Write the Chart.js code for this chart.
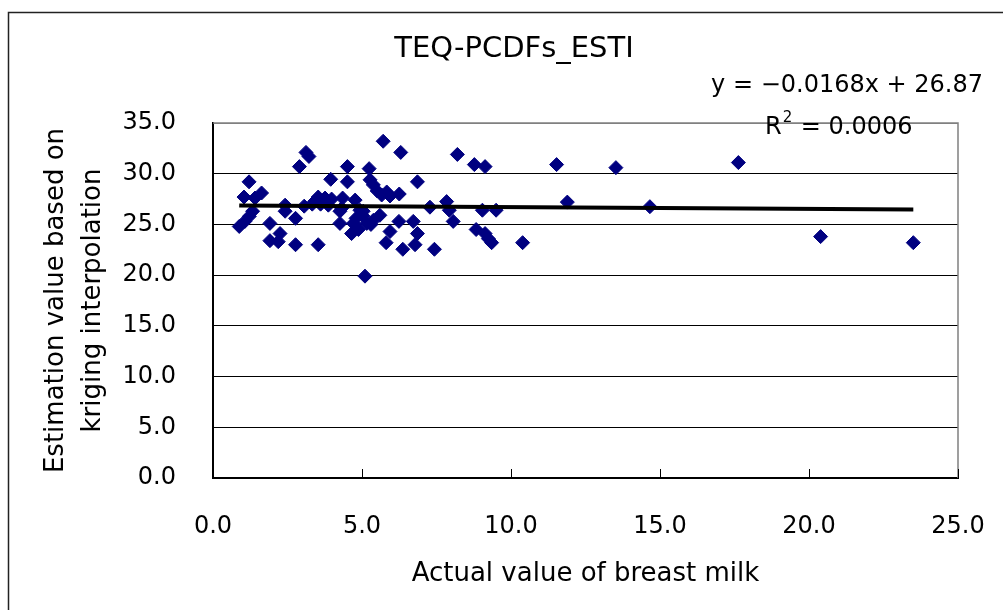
<!DOCTYPE html>
<html>
<head>
<meta charset="utf-8">
<title>TEQ-PCDFs_ESTI</title>
<script src="https://cdn.jsdelivr.net/npm/chart.js@4.4.1/dist/chart.umd.min.js"></script>
<style>
    body { margin: 0; background: #fff; }
    #wrap { width: 1003px; height: 610px; }
</style>
</head>
<body>
<div id="wrap"><canvas id="myChart" width="1003" height="610"></canvas></div>
<script>
// actual value (x) / kriging estimation (y)
var actualValues = [0.88, 1.04, 1.07, 1.21, 1.22, 1.33, 1.41, 1.63, 1.91, 1.91,
    2.19, 2.25, 2.42, 2.42, 2.77, 2.77, 2.90, 3.06, 3.12, 3.22,
    3.33, 3.42, 3.53, 3.53, 3.61, 3.76, 3.87, 3.95, 3.98, 4.26,
    4.26, 4.32, 4.35, 4.51, 4.51, 4.65, 4.71, 4.77, 4.80, 4.88,
    4.93, 5.04, 5.04, 5.10, 5.16, 5.24, 5.27, 5.30, 5.38, 5.38,
    5.51, 5.60, 5.66, 5.71, 5.81, 5.83, 5.94, 5.94, 6.24, 6.25,
    6.30, 6.37, 6.72, 6.78, 6.86, 6.86, 7.28, 7.43, 7.84, 7.93,
    8.06, 8.20, 8.77, 8.83, 9.04, 9.13, 9.13, 9.24, 9.35, 9.50,
    10.39, 11.53, 11.89, 13.52, 14.66, 17.63, 20.39, 23.50];
var estimatedValues = [24.8, 27.7, 25.3, 29.2, 25.8, 26.3, 27.6, 28.1, 25.1, 23.4,
    23.3, 24.1, 26.9, 26.3, 25.6, 23.0, 30.7, 26.8, 32.1, 31.7,
    27.0, 27.3, 27.7, 23.0, 27.0, 27.6, 26.9, 29.45, 27.5, 26.3,
    25.1, 26.6, 27.6, 30.7, 29.2, 24.1, 25.1, 27.4, 25.6, 24.5,
    26.4, 25.8, 26.3, 19.9, 25.1, 30.5, 29.4, 25.0, 28.9, 25.4,
    28.3, 25.9, 27.9, 33.2, 23.2, 28.2, 27.8, 24.3, 25.3, 28.0,
    32.1, 22.55, 25.3, 23.0, 29.2, 24.1, 26.7, 22.55, 27.25, 26.4,
    25.3, 31.9, 30.9, 24.5, 26.4, 30.7, 24.1, 23.6, 23.2, 26.4,
    23.2, 30.9, 27.2, 30.6, 26.75, 31.1, 23.8, 23.2];

// linear trendline ends as drawn in the picture
var trendX = [0.88, 23.50];
var trendY = [26.86, 26.48];

var xTicks = [0, 5, 10, 15, 20, 25];
var yTicks = [0, 5, 10, 15, 20, 25, 30, 35];

var titulo = "TEQ-PCDFs_ESTI";
var ecuacion = "y = \u22120.0168x + 26.87";
var r2Valor = " = 0.0006";
var tituloX = "Actual value of breast milk";
var tituloY = ["Estimation value based on", "kriging interpolation"];

var fuente = '"DejaVu Sans", "Liberation Sans", sans-serif';

function toPoints(xs, ys) {
    var pts = [];
    for (var i = 0; i < xs.length; i++) pts.push({ x: xs[i], y: ys[i] });
    return pts;
}

// frame, plot border, inner tick marks and the text annotations
var decoracion = {
    id: 'decoracion',
    beforeDraw: function (chart) {
        var ctx = chart.ctx;
        ctx.save();
        ctx.strokeStyle = '#222';
        ctx.lineWidth = 1.5;
        ctx.beginPath();
        ctx.moveTo(8.5, 620);
        ctx.lineTo(8.5, 12.5);
        ctx.lineTo(1010, 12.5);
        ctx.stroke();
        ctx.restore();
    },
    beforeDatasetsDraw: function (chart) {
        var ctx = chart.ctx;
        var a = chart.chartArea;
        var sx = chart.scales.x;
        ctx.save();
        ctx.strokeStyle = '#808080';
        ctx.lineWidth = 1.5;
        ctx.beginPath();
        ctx.moveTo(a.left, a.top);
        ctx.lineTo(a.right, a.top);
        ctx.lineTo(a.right, a.bottom);
        ctx.stroke();
        ctx.strokeStyle = '#000';
        ctx.lineWidth = 1;
        for (var i = 1; i < xTicks.length; i++) {
            var px = Math.round(sx.getPixelForValue(xTicks[i])) + 0.5;
            ctx.beginPath();
            ctx.moveTo(px, a.bottom);
            ctx.lineTo(px, a.bottom - 9);
            ctx.stroke();
        }
        ctx.restore();
    },
    afterDraw: function (chart) {
        var ctx = chart.ctx;
        ctx.save();
        ctx.fillStyle = '#000';
        ctx.textBaseline = 'alphabetic';
        ctx.font = '29px ' + fuente;
        ctx.textAlign = 'center';
        ctx.fillText(titulo, 514, 57);

        ctx.font = '24px ' + fuente;
        ctx.textAlign = 'right';
        ctx.fillText(ecuacion, 983, 92);

        ctx.textAlign = 'left';
        ctx.fillText("R", 765, 134);
        var wR = ctx.measureText("R").width;
        ctx.font = '15px ' + fuente;
        ctx.fillText("2", 765 + wR + 1, 122);
        var w2 = ctx.measureText("2").width;
        ctx.font = '24px ' + fuente;
        ctx.fillText(r2Valor, 765 + wR + w2 + 2, 134);
        ctx.restore();
    }
};

window.onload = function () {
    const data = {
        datasets: [{
            type: 'line',
            label: 'Linear',
            data: toPoints(trendX, trendY),
            borderColor: '#000',
            borderWidth: 4,
            pointRadius: 0,
            fill: false,
            order: 0
        }, {
            type: 'scatter',
            label: titulo,
            data: toPoints(actualValues, estimatedValues),
            backgroundColor: '#000080',
            borderColor: '#000080',
            borderWidth: 1,
            pointStyle: 'rectRot',
            pointRadius: 7,
            order: 1
        }]
    };

    const config = {
        type: 'scatter',
        data: data,
        plugins: [decoracion],
        options: {
            responsive: false,
            animation: false,
            layout: { padding: { left: 0, top: 123, right: 45, bottom: 0 } },
            plugins: {
                legend: { display: false },
                tooltip: { enabled: false },
                title: { display: false }
            },
            scales: {
                x: {
                    type: 'linear',
                    min: 0,
                    max: 25,
                    afterBuildTicks: function (s) { s.ticks = xTicks.map(function (v) { return { value: v }; }); },
                    afterFit: function (s) {
                        s.height = 132;
                        s.paddingLeft = 0;
                        s.paddingRight = 0;
                    },
                    grid: { display: false, drawTicks: false },
                    border: { display: true, color: '#000', width: 2 },
                    ticks: {
                        padding: 34,
                        color: '#000',
                        font: { family: fuente, size: 24 },
                        callback: function (v) { return Number(v).toFixed(1); }
                    },
                    title: {
                        display: true,
                        text: tituloX,
                        color: '#000',
                        font: { family: fuente, size: 26 },
                        padding: { top: 0, bottom: 20 }
                    }
                },
                y: {
                    type: 'linear',
                    min: 0,
                    max: 35,
                    afterBuildTicks: function (s) { s.ticks = yTicks.map(function (v) { return { value: v }; }); },
                    afterFit: function (s) {
                        s.width = 213;
                        s.paddingTop = 0;
                        s.paddingBottom = 0;
                    },
                    grid: {
                        drawTicks: false,
                        lineWidth: 1,
                        color: function (c) { return c.tick && c.tick.value === 35 ? '#808080' : '#000'; }
                    },
                    border: { display: true, color: '#000', width: 2 },
                    ticks: {
                        padding: 37,
                        color: '#000',
                        font: { family: fuente, size: 24 },
                        callback: function (v) { return Number(v).toFixed(1); }
                    },
                    title: {
                        display: true,
                        text: tituloY,
                        color: '#000',
                        font: { family: fuente, size: 26, lineHeight: 1.42 },
                        padding: { top: 38, bottom: 0 }
                    }
                }
            }
        }
    };

    var myChart = new Chart(document.getElementById('myChart'), config);
};
</script>
</body>
</html>
